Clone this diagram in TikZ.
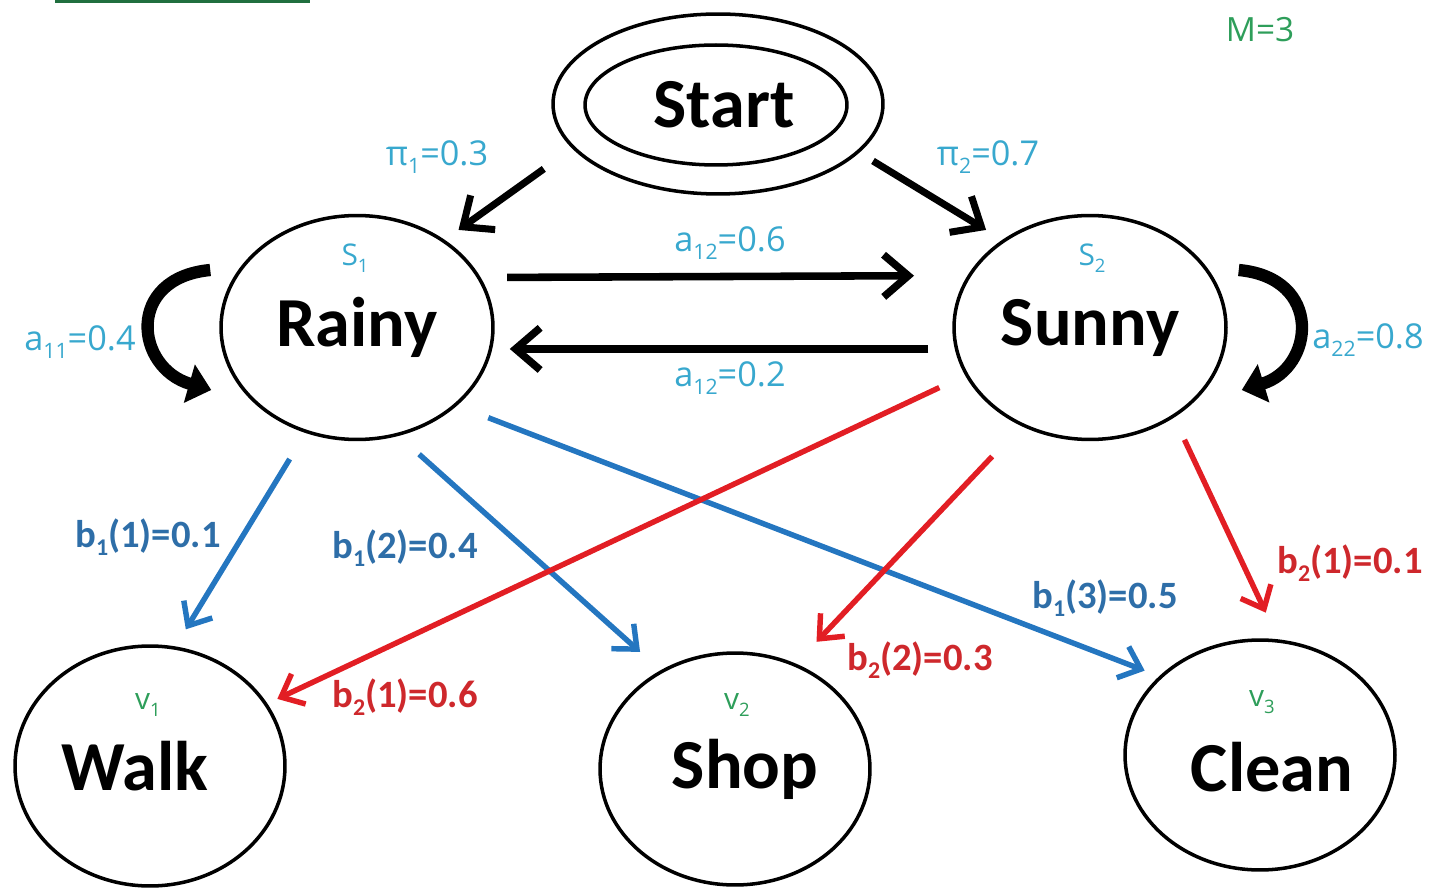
\documentclass[tikz,border=0pt]{standalone}
\usepackage{fontspec}
\setmainfont{Carlito}
\newfontfamily\labfont{Open Sans}
\usepackage{graphicx}
\usetikzlibrary{arrows.meta,shapes.geometric}

\definecolor{cyanlab}{RGB}{56,168,206}
\definecolor{bluearr}{RGB}{36,118,192}
\definecolor{bluelab}{RGB}{46,110,168}
\definecolor{redarr}{RGB}{226,30,36}
\definecolor{redlab}{RGB}{206,40,44}
\definecolor{greenlab}{RGB}{46,158,90}

\newcommand{\lsub}[1]{\raisebox{-0.45ex}{\scalebox{0.62}{#1}}}

\begin{document}
\begin{tikzpicture}[x=0.02cm,y=-0.02cm,
  state/.style={draw,ellipse,line width=2pt,inner sep=0pt,
    font=\fontsize{40}{46}\selectfont\bfseries},
  blackarr/.style={line width=4.3pt,-{Straight Barb[length=14pt,width=24pt]}},
  bluear/.style={draw=bluearr,line width=3.1pt,-{Straight Barb[length=11pt,width=19pt]}},
  redar/.style={draw=redarr,line width=3.1pt,-{Straight Barb[length=11pt,width=19pt]}},
  loopar/.style={line width=7pt,-{Triangle[length=13pt,width=22pt]}},
  cyantext/.style={text=cyanlab,font=\labfont\fontsize{19.5}{22}\selectfont,inner sep=1pt},
  bluetext/.style={text=bluelab,font=\fontsize{22}{24}\selectfont\bfseries,inner sep=1pt},
  redtext/.style={text=redlab,font=\fontsize{22}{24}\selectfont\bfseries,inner sep=1pt},
  subtext/.style={font=\labfont\fontsize{17}{19}\selectfont,inner sep=1pt},
]
\useasboundingbox (0,0) rectangle (1432,891);

% top-left green rule
\draw[greenlab!70!black,line width=1.8pt] (55,1) -- (310,1);
\node[subtext,text=greenlab,font=\labfont\fontsize{19}{21}\selectfont] (mlab) at (1260,30) {M=3};

% nodes
\node[draw,ellipse,line width=2pt,minimum width=6.6cm,minimum height=3.6cm] (start) at (718,104) {};
\node[state,minimum width=5.24cm,minimum height=2.4cm] (startin) at (716,105) {\kern16\dimexpr0.02cm\relax Start};
\node[state,minimum width=5.44cm,minimum height=4.48cm] (rainy) at (357,327.5) {Rainy};
\node[state,minimum width=5.44cm,minimum height=4.48cm] (sunny) at (1090,327.5) {Sunny};
\node[state,minimum width=5.4cm,minimum height=4.8cm] (walk) at (150,766) {Walk\kern30\dimexpr0.02cm\relax};
\node[state,minimum width=5.4cm,minimum height=4.64cm] (shop) at (735,769) {\kern20\dimexpr0.02cm\relax Shop};
\node[state,minimum width=5.4cm,minimum height=4.6cm] (clean) at (1260,755) {\kern24\dimexpr0.02cm\relax\raisebox{-0.24cm}[\height][\depth]{Clean}};

% state / symbol sub-labels
\node[subtext,text=cyanlab] (s1) at (355,258) {S\lsub{1}};
\node[subtext,text=cyanlab] (s2) at (1092,258) {S\lsub{2}};
\node[subtext,text=greenlab] (v1) at (148,705) {v\lsub{1}};
\node[subtext,text=greenlab] (v2) at (737,705) {v\lsub{2}};
\node[subtext,text=greenlab] (v3) at (1262,702) {v\lsub{3}};

% initial arrows
\draw[blackarr,line width=4pt,shorten <=0.70cm,shorten >=0.34cm] (start.197) -- (rainy.45);
\draw[blackarr,line width=4pt,shorten <=0.32cm,shorten >=0.38cm] (start.-19.3) -- (sunny.135.9);
\node[cyantext] (pi1) at (437,157) {π\lsub{1}=0.3};
\node[cyantext] (pi2) at (988,157) {π\lsub{2}=0.7};

% transitions
\draw[blackarr,shorten <=0.53cm,shorten >=1.07cm] (rainy.22.5) -- (sunny.157.5);
\draw[blackarr,shorten <=0.53cm,shorten >=0.35cm] (sunny.189.5) -- (rainy.-9.5);
\node[cyantext] (a12) at (730,243) {a\lsub{12}=0.6};
\node[cyantext] (a21) at (730,378) {a\lsub{12}=0.2};

% self loops
\draw[loopar] ([shift={(-9,-57.5)}]rainy.west) .. controls (125,278) and (135,368) .. ([shift={(-8,62.5)}]rainy.west);
\draw[loopar] ([shift={(11,-57.5)}]sunny.east) .. controls (1324,278) and (1314,368) .. ([shift={(14,62.5)}]sunny.east);
\node[cyantext] (a11) at (80,342) {a\lsub{11}=0.4};
\node[cyantext] (a22) at (1368,340) {a\lsub{22}=0.8};

% emissions from Rainy
\draw[bluear,shorten <=0.61cm,shorten >=0.40cm] (rainy.244.8) -- (walk.78.5);
\draw[bluear,shorten <=0.55cm,shorten >=0.55cm] (rainy.-69) -- (shop.127.1);
\draw[bluear,shorten <=0.67cm,shorten >=0.31cm] (rainy.-38) -- (clean.142.2);
\node[bluetext] (b11) at (148,537) {b\lsub{1}(1)=0.1};
\node[bluetext] (b12) at (405,548) {b\lsub{1}(2)=0.4};
\node[bluetext] (b13) at (1105,598) {b\lsub{1}(3)=0.5};

% emissions from Sunny
\draw[redar,shorten <=0.57cm,shorten >=0.22cm] (sunny.201) -- (walk.28.5);
\draw[redar,shorten <=0.84cm,shorten >=0.60cm] (sunny.235.8) -- (shop.60.9);
\draw[redar,shorten <=0.49cm,shorten >=0.59cm] (sunny.-47.6) -- (clean.81.3);
\node[redtext] (b21) at (405,697) {b\lsub{2}(1)=0.6};
\node[redtext] (b22) at (920,660) {b\lsub{2}(2)=0.3};
\node[redtext] (b23) at (1350,563) {b\lsub{2}(1)=0.1};
\end{tikzpicture}
\end{document}
